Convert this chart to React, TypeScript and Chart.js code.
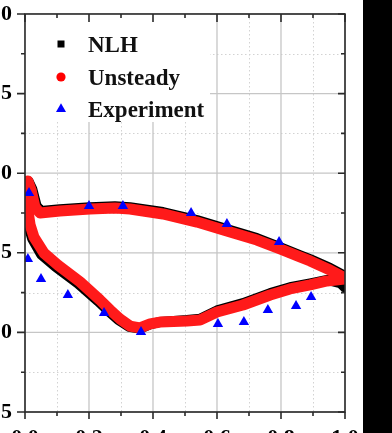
import { useEffect, useRef } from "react";
import { Chart, registerables } from "chart.js";

Chart.register(...registerables);

// Axis ticks
const xMajor = [0, 0.2, 0.4, 0.6, 0.8, 1.0];
const xMinor = [0.1, 0.3, 0.5, 0.7, 0.9];
const yMajor = [-0.5, 0, 0.5, 1.0, 1.5, 2.0];
const yMinor = [-0.25, 0.25, 0.75, 1.25, 1.75];

const legendLabels = ["NLH", "Unsteady", "Experiment"];

// Unsteady (red): upper branch TE -> LE, then lower branch LE -> TE
const unsteadyX = [
  1.0, 0.953, 0.891, 0.859, 0.797, 0.725, 0.641, 0.5375, 0.431, 0.328, 0.281, 0.203, 0.109, 0.047, 0.031, 0.019, 0.009,
  0.006, 0.009, 0.016, 0.028, 0.059, 0.103, 0.172, 0.234, 0.266, 0.297, 0.328, 0.359, 0.391, 0.422, 0.506, 0.547, 0.6,
  0.681, 0.766, 0.828, 0.891, 0.944, 1.0,
];
const unsteadyY = [
  0.342, 0.392, 0.449, 0.474, 0.524, 0.58, 0.631, 0.693, 0.744, 0.775, 0.781, 0.775, 0.763, 0.75, 0.788, 0.894, 0.951,
  0.882, 0.769, 0.675, 0.599, 0.499, 0.423, 0.317, 0.204, 0.141, 0.084, 0.04, 0.028, 0.053, 0.065, 0.072, 0.078, 0.128,
  0.172, 0.235, 0.273, 0.298, 0.323, 0.336,
];

// NLH (black)
const nlhX = [
  1.0, 0.953, 0.891, 0.859, 0.797, 0.725, 0.641, 0.5375, 0.431, 0.328, 0.281, 0.203, 0.109, 0.05, 0.036, 0.023, 0.011,
  0.003, 0.005, 0.011, 0.022, 0.05, 0.095, 0.165, 0.228, 0.261, 0.292, 0.325, 0.359, 0.391, 0.422, 0.506, 0.547, 0.6,
  0.681, 0.766, 0.828, 0.891, 0.944, 0.985, 1.0,
];
const nlhY = [
  0.355, 0.405, 0.46, 0.485, 0.536, 0.592, 0.643, 0.705, 0.756, 0.786, 0.792, 0.786, 0.774, 0.762, 0.797, 0.9, 0.95,
  0.88, 0.765, 0.668, 0.59, 0.49, 0.412, 0.307, 0.196, 0.133, 0.077, 0.035, 0.024, 0.051, 0.066, 0.078, 0.086, 0.138,
  0.184, 0.247, 0.284, 0.308, 0.33, 0.31, 0.28,
];

// Experiment (blue triangles)
const expX = [
  0.0125, 0.2, 0.306, 0.519, 0.631, 0.794,
  0.009, 0.05, 0.134, 0.247, 0.3625, 0.603, 0.684, 0.759, 0.847, 0.894,
];
const expY = [
  0.876, 0.794, 0.794, 0.75, 0.681, 0.568,
  0.461, 0.335, 0.235, 0.122, 0.003, 0.053, 0.065, 0.141, 0.166, 0.222,
];

const FONT = '"Liberation Serif", "Times New Roman", serif';

const toPts = (xs: number[], ys: number[]) => xs.map((x, i) => ({ x, y: ys[i] }));

const decor = {
  id: "decor",
  beforeDraw(chart: any) {
    const { ctx, width, height } = chart;
    ctx.save();
    ctx.fillStyle = "#ffffff";
    ctx.fillRect(0, 0, width, height);
    ctx.fillStyle = "#000000";
    ctx.fillRect(363, 0, width - 363, height);
    ctx.restore();
  },
  beforeDatasetsDraw(chart: any) {
    const { ctx } = chart;
    const { left, right, top, bottom } = chart.chartArea;
    const xs = chart.scales.x;
    const ys = chart.scales.y;
    ctx.save();
    // minor dotted grid
    ctx.strokeStyle = "#d2d2d2";
    ctx.lineWidth = 1;
    ctx.setLineDash([1.5, 2.5]);
    ctx.beginPath();
    xMinor.forEach((v) => {
      const p = Math.round(xs.getPixelForValue(v)) + 0.5;
      ctx.moveTo(p, top);
      ctx.lineTo(p, bottom);
    });
    yMinor.forEach((v) => {
      const p = Math.round(ys.getPixelForValue(v)) + 0.5;
      ctx.moveTo(left, p);
      ctx.lineTo(right, p);
    });
    ctx.stroke();
    // major solid grid
    ctx.setLineDash([]);
    ctx.strokeStyle = "#c6c6c6";
    ctx.lineWidth = 1.3;
    ctx.beginPath();
    xMajor.forEach((v) => {
      const p = xs.getPixelForValue(v);
      ctx.moveTo(p, top);
      ctx.lineTo(p, bottom);
    });
    yMajor.forEach((v) => {
      const p = ys.getPixelForValue(v);
      ctx.moveTo(left, p);
      ctx.lineTo(right, p);
    });
    ctx.stroke();
    // legend background
    ctx.fillStyle = "#ffffff";
    ctx.fillRect(left, top, 185, 108);
    ctx.restore();
  },
  afterDatasetsDraw(chart: any) {
    const { ctx } = chart;
    const { left, right, top, bottom } = chart.chartArea;
    const xs = chart.scales.x;
    const ys = chart.scales.y;
    ctx.save();
    ctx.strokeStyle = "#2a2a2a";
    ctx.lineWidth = 1.6;
    ctx.strokeRect(left, top, right - left, bottom - top);
    ctx.beginPath();
    xMajor.forEach((v) => {
      const p = xs.getPixelForValue(v);
      ctx.moveTo(p, bottom);
      ctx.lineTo(p, bottom + 7);
      ctx.moveTo(p, top);
      ctx.lineTo(p, top + 8);
    });
    xMinor.forEach((v) => {
      const p = xs.getPixelForValue(v);
      ctx.moveTo(p, bottom);
      ctx.lineTo(p, bottom + 4);
      ctx.moveTo(p, top);
      ctx.lineTo(p, top + 4);
    });
    yMajor.forEach((v) => {
      const p = ys.getPixelForValue(v);
      ctx.moveTo(left - 8, p);
      ctx.lineTo(left, p);
      ctx.moveTo(right - 7, p);
      ctx.lineTo(right, p);
    });
    yMinor.forEach((v) => {
      const p = ys.getPixelForValue(v);
      ctx.moveTo(left - 4, p);
      ctx.lineTo(left, p);
      ctx.moveTo(right - 4, p);
      ctx.lineTo(right, p);
    });
    ctx.stroke();

    // legend
    const mx = left + 36;
    const tx = left + 63;
    const rows = [top + 30, top + 63, top + 95];
    ctx.fillStyle = "#000000";
    ctx.fillRect(mx - 3.5, rows[0] - 3.5, 7, 7);
    ctx.fillStyle = "#ff0000";
    ctx.beginPath();
    ctx.arc(mx, rows[1], 4.6, 0, Math.PI * 2);
    ctx.fill();
    ctx.fillStyle = "#0000ff";
    ctx.beginPath();
    const r = 5.8;
    for (let k = 0; k < 3; k++) {
      const a = (k * 2 * Math.PI) / 3;
      const px = mx + Math.sin(a) * r;
      const py = rows[2] - Math.cos(a) * r;
      if (k === 0) ctx.moveTo(px, py);
      else ctx.lineTo(px, py);
    }
    ctx.closePath();
    ctx.fill();
    ctx.fillStyle = "#111111";
    ctx.font = `bold 23px ${FONT}`;
    ctx.textBaseline = "alphabetic";
    ctx.textAlign = "left";
    legendLabels.forEach((t, i) => {
      ctx.fillText(t, tx, rows[i] + 8);
    });
    ctx.restore();
  },
};

export default function App() {
  const ref = useRef<HTMLCanvasElement | null>(null);
  useEffect(() => {
    if (!ref.current) return;
    const chart = new Chart(ref.current, {
      type: "scatter",
      data: {
        datasets: [
          {
            label: legendLabels[2],
            data: toPts(expX, expY),
            pointStyle: "triangle",
            pointRadius: 6,
            pointBackgroundColor: "#0000ff",
            pointBorderColor: "#0000ff",
            pointBorderWidth: 0,
            showLine: false,
          },
          {
            label: legendLabels[1],
            data: toPts(unsteadyX, unsteadyY),
            showLine: true,
            borderColor: "#ff1a1a",
            borderWidth: 11,
            borderJoinStyle: "round",
            borderCapStyle: "round",
            pointRadius: 0,
            tension: 0,
          },
          {
            label: legendLabels[0],
            data: toPts(nlhX, nlhY),
            showLine: true,
            borderColor: "#000000",
            borderWidth: 10,
            borderJoinStyle: "round",
            borderCapStyle: "round",
            pointRadius: 0,
            tension: 0,
          },
        ],
      },
      options: {
        animation: false,
        responsive: false,
        devicePixelRatio: 1,
        layout: { autoPadding: false, padding: { top: 14, right: 47, bottom: 0, left: 0 } },
        plugins: { legend: { display: false }, tooltip: { enabled: false } },
        scales: {
          x: {
            type: "linear",
            min: 0,
            max: 1,
            afterFit: (s: any) => {
              s.height = 21;
              s.paddingLeft = 0;
              s.paddingRight = 0;
              s.paddingTop = 0;
              s.paddingBottom = 0;
            },
            afterBuildTicks: (s: any) => {
              s.ticks = xMajor.map((v) => ({ value: v }));
            },
            grid: { display: false, drawTicks: false },
            border: { display: false },
            ticks: {
              padding: 13,
              color: "#000",
              font: { family: FONT, size: 22, weight: "bold" },
              callback: (v: any) => Number(v).toFixed(1),
            },
          },
          y: {
            type: "linear",
            min: -0.5,
            max: 2.0,
            afterFit: (s: any) => {
              s.width = 25;
              s.paddingLeft = 0;
              s.paddingRight = 0;
              s.paddingTop = 0;
              s.paddingBottom = 0;
            },
            afterBuildTicks: (s: any) => {
              s.ticks = yMajor.map((v) => ({ value: v }));
            },
            grid: { display: false, drawTicks: false },
            border: { display: false },
            ticks: {
              padding: 13,
              color: "#000",
              font: { family: FONT, size: 22, weight: "bold" },
              callback: (v: any) => Number(v).toFixed(1),
            },
          },
        },
      },
      plugins: [decor],
    });
    return () => chart.destroy();
  }, []);
  return (
    <div style={{ position: "fixed", left: 0, top: 0, width: 392, height: 433, overflow: "hidden" }}>
      <canvas ref={ref} width={392} height={433} style={{ display: "block" }} />
    </div>
  );
}
